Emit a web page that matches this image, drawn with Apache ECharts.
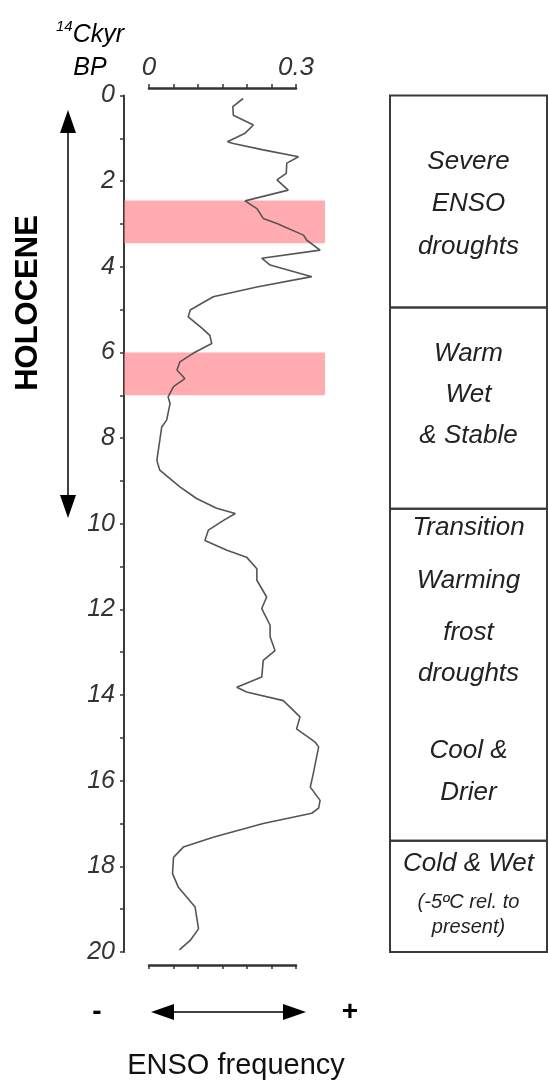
<!DOCTYPE html>
<html><head><meta charset="utf-8">
<script src="https://cdn.jsdelivr.net/npm/echarts@6/dist/echarts.min.js"></script>
<style>html,body{margin:0;padding:0;background:#fff}#c{width:548px;height:1082px}</style>
</head><body><div id="c"></div>
<script>
// age (14C kyr BP) and ENSO frequency read from the record
const ageKyr = [0.07,0.26,0.46,0.69,0.88,1.08,1.12,1.27,1.43,1.58,1.82,1.97,2.21,2.46,2.64,2.87,2.99,3.26,3.38,3.61,3.80,3.96,4.23,4.47,4.70,5.01,5.17,5.43,5.60,5.79,6.02,6.22,6.41,6.61,6.80,7.04,7.19,7.58,7.74,8.52,8.75,9.14,9.41,9.64,9.76,9.92,10.15,10.39,10.62,10.78,11.05,11.32,11.71,11.98,12.37,12.64,12.96,13.19,13.58,13.82,13.93,14.13,14.51,14.79,15.10,15.21,15.84,16.15,16.46,16.64,16.76,17.00,17.32,17.55,17.79,18.17,18.49,18.95,19.46,19.73,19.95];
const ensoFreq = [0.192,0.171,0.172,0.213,0.196,0.160,0.172,0.233,0.305,0.281,0.280,0.261,0.284,0.196,0.220,0.233,0.261,0.315,0.322,0.349,0.230,0.247,0.332,0.220,0.131,0.084,0.080,0.108,0.124,0.128,0.090,0.063,0.057,0.073,0.050,0.039,0.043,0.036,0.026,0.016,0.022,0.063,0.097,0.138,0.176,0.152,0.121,0.114,0.159,0.199,0.220,0.220,0.240,0.230,0.247,0.247,0.257,0.233,0.230,0.179,0.199,0.274,0.308,0.301,0.339,0.346,0.335,0.329,0.349,0.346,0.332,0.233,0.131,0.070,0.050,0.048,0.060,0.094,0.101,0.084,0.062];
// drought bands (kyr BP)
const droughtBands = [[2.45, 3.45], [6.0, 7.0]];
// climate zones (kyr BP boundaries) and their descriptions
const zoneBounds = [0, 4.95, 9.65, 17.4, 20.1];
const zoneLines = [
  ['Severe', 'ENSO', 'droughts'],
  ['Warm', 'Wet', '& Stable'],
  ['Transition', 'Warming', 'frost', 'droughts', '', 'Cool &', 'Drier'],
  ['Cold & Wet', '(-5ºC rel. to', 'present)']
];
// axis ranges / ticks
const ageMin = 0, ageMax = 20, ageLabelStep = 2;
const freqMin = 0, freqMax = 0.3, freqTickStep = 0.05;
const freqLabels = ['0', '0.3'];

const FONT = '"Liberation Sans", Arial, sans-serif';
const TXT = '#333';

const zoneStyles = [
  {distance: 46, keys: ['z1','z1','z1']},
  {distance: 27, keys: ['z2','z2','z2']},
  {distance: 2, keys: ['t1','t2','t3','t4','t5','t6','t7']},
  {distance: 2, keys: ['c1','c2','c3']}
];
function mk(lh, fs) { return {fontSize: fs || 26, lineHeight: lh, fontStyle: 'italic', fontFamily: FONT, color: '#222'}; }
const rich = {
  z1: mk(42.5), z2: mk(41),
  t1: mk(37), t2: mk(69), t3: mk(35), t4: mk(47), t5: mk(32.5), t6: mk(42), t7: mk(42),
  c1: mk(44), c2: mk(33, 20), c3: mk(18, 20)
};

const zoneData = zoneLines.map((lines, i) => {
  const st = zoneStyles[i];
  return [
    {xAxis: 0, yAxis: zoneBounds[i],
     label: {show: true, position: 'insideTop', distance: st.distance,
       formatter: lines.map((t, j) => '{' + st.keys[j] + '|' + (t === '' ? ' ' : t) + '}').join('\n'),
       rich: rich}},
    {xAxis: 1, yAxis: zoneBounds[i + 1]}
  ];
});

const chart = echarts.init(document.getElementById('c'), null, {renderer: 'canvas'});
const option = {
  animation: false,
  backgroundColor: '#fff',
  grid: [
    {left: 124, top: 95.5, width: 201, height: 856.5},
    {left: 149, top: 88, width: 147, height: 877},
    {left: 390, top: 95.5, width: 157, height: 856.5}
  ],
  xAxis: [
    {gridIndex: 0, type: 'value', min: -0.051, max: 0.359, show: false},
    {gridIndex: 1, type: 'value', position: 'top', min: freqMin, max: freqMax, interval: freqTickStep,
     axisLine: {onZero: false, lineStyle: {color: '#333', width: 2.5}},
     axisTick: {show: true, length: 4, lineStyle: {color: '#333', width: 1.5}},
     splitLine: {show: false},
     axisLabel: {margin: 7, fontSize: 26, fontStyle: 'italic', fontFamily: FONT, color: TXT,
       formatter: v => Math.abs(v - freqMin) < 1e-9 ? freqLabels[0] : (Math.abs(v - freqMax) < 1e-9 ? freqLabels[1] : '')}},
    {gridIndex: 1, type: 'value', position: 'bottom', min: freqMin, max: freqMax, interval: freqTickStep,
     axisLine: {onZero: false, lineStyle: {color: '#333', width: 2.5}},
     axisTick: {show: true, length: 4, lineStyle: {color: '#333', width: 1.5}},
     splitLine: {show: false}, axisLabel: {show: false}},
    {gridIndex: 2, type: 'value', min: 0, max: 1, show: false}
  ],
  yAxis: [
    {gridIndex: 0, type: 'value', inverse: true, min: ageMin, max: ageMax, interval: ageLabelStep,
     axisLine: {show: true, onZero: false, lineStyle: {color: '#3a3a3a', width: 2}},
     axisTick: {show: true, length: 4, lineStyle: {color: '#3a3a3a', width: 1.5}},
     minorTick: {show: true, splitNumber: 2, length: 4, lineStyle: {color: '#3a3a3a', width: 1.5}},
     splitLine: {show: false},
     axisLabel: {margin: 9, fontSize: 25, fontStyle: 'italic', fontFamily: FONT, color: TXT,
       showMinLabel: true, showMaxLabel: true}},
    {gridIndex: 1, type: 'value', show: false, min: 0, max: 1},
    {gridIndex: 2, type: 'value', inverse: true, min: ageMin, max: ageMax, show: false}
  ],
  series: [
    {type: 'line', xAxisIndex: 0, yAxisIndex: 0, showSymbol: false, symbol: 'none',
     data: ageKyr.map((a, i) => [ensoFreq[i], a]),
     lineStyle: {color: '#555', width: 1.6}, z: 2},
    {type: 'line', xAxisIndex: 0, yAxisIndex: 0, data: [], z: 5,
     markArea: {silent: true, itemStyle: {color: 'rgba(255,110,118,0.58)'},
       data: droughtBands.map(b => [{yAxis: b[0]}, {yAxis: b[1]}])}},
    {type: 'line', xAxisIndex: 3, yAxisIndex: 2, data: [], z: 3,
     markArea: {silent: true, itemStyle: {color: 'rgba(0,0,0,0)', borderColor: '#3a3a3a', borderWidth: 2},
       data: zoneData}}
  ],
  graphic: [
    {type: 'text', x: 90, y: 19, style: {
      text: '{s|14}{m|Ckyr}\n{m|BP}', align: 'center',
      rich: {s: {fontSize: 15, fontStyle: 'italic', fontFamily: FONT, color: TXT, verticalAlign: 'top', lineHeight: 33},
             m: {fontSize: 25, fontStyle: 'italic', fontFamily: FONT, color: TXT, lineHeight: 33}}}},
    {type: 'text', x: 28, y: 303, rotation: Math.PI / 2, style: {
      text: 'HOLOCENE', align: 'center', verticalAlign: 'middle',
      font: 'bold 31px ' + FONT, fill: '#000'}},
    {type: 'line', shape: {x1: 68, y1: 125, x2: 68, y2: 500}, style: {stroke: '#000', lineWidth: 1.5}},
    {type: 'polygon', shape: {points: [[68, 110], [60, 133], [76, 133]]}, style: {fill: '#000'}},
    {type: 'polygon', shape: {points: [[68, 518], [60, 495], [76, 495]]}, style: {fill: '#000'}},
    {type: 'line', shape: {x1: 165, y1: 1012, x2: 295, y2: 1012}, style: {stroke: '#000', lineWidth: 1.5}},
    {type: 'polygon', shape: {points: [[151, 1012], [174, 1004], [174, 1020]]}, style: {fill: '#000'}},
    {type: 'polygon', shape: {points: [[306, 1012], [283, 1004], [283, 1020]]}, style: {fill: '#000'}},
    {type: 'text', x: 97, y: 1012, style: {text: '-', align: 'center', verticalAlign: 'middle', font: 'bold 28px ' + FONT, fill: '#000'}},
    {type: 'text', x: 350, y: 1012, style: {text: '+', align: 'center', verticalAlign: 'middle', font: 'bold 28px ' + FONT, fill: '#000'}},
    {type: 'text', x: 236, y: 1066, style: {text: 'ENSO frequency', align: 'center', verticalAlign: 'middle', font: '29px ' + FONT, fill: '#111'}}
  ]
};
chart.setOption(option);
</script></body></html>
